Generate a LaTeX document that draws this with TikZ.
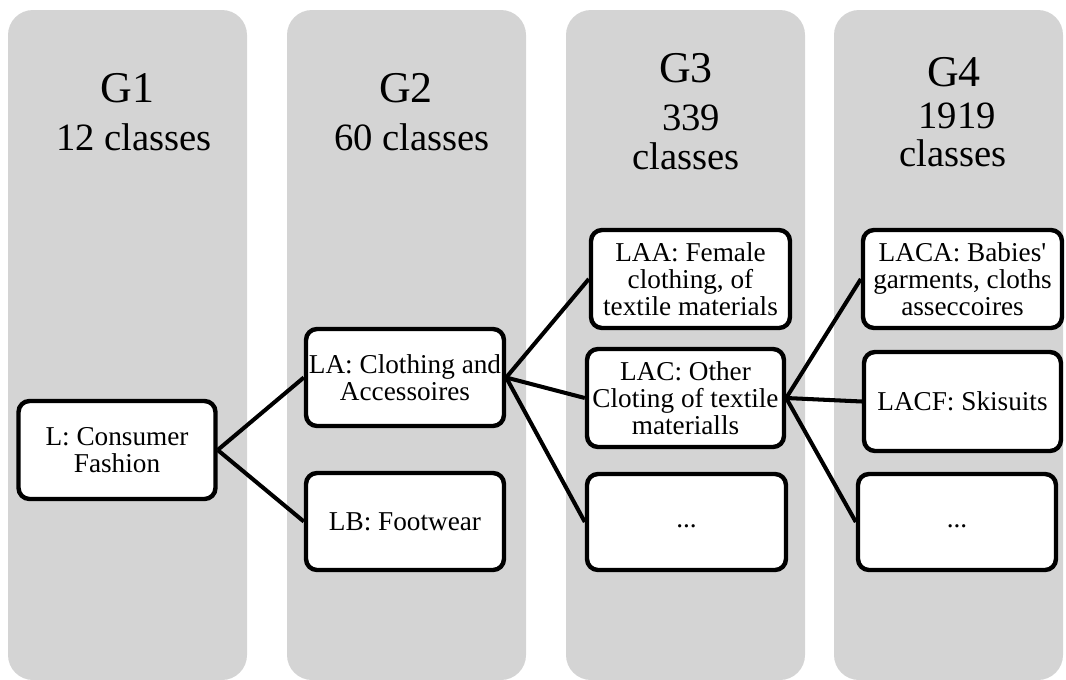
\documentclass[tikz,border=0pt]{standalone}
\usepackage{fontspec}
\setmainfont{Liberation Serif}
\definecolor{lanegrey}{RGB}{212,212,212}
\tikzset{
  lane/.style={fill=lanegrey, rounded corners=0.5cm},
  grouptitle/.style={anchor=base, inner sep=0, font=\fontsize{25}{25}\selectfont},
  groupcount/.style={anchor=base, inner sep=0, font=\fontsize{22}{22}\selectfont},
  classbox/.style={draw, line width=2.5pt, fill=white, rounded corners=0.22cm,
    align=center, inner sep=0pt, font=\fontsize{15.5}{15.5}\selectfont},
  link/.style={line width=2.3pt}
}
\begin{document}
\begin{tikzpicture}[x=0.02cm, y=-0.02cm]
\useasboundingbox (0,0) rectangle (1066,680);

% four hierarchy levels as grey lanes
\fill[lane] (8,10) rectangle (247,680);
\fill[lane] (287,10) rectangle (526,680);
\fill[lane] (566,10) rectangle (805,680);
\fill[lane] (834,10) rectangle (1063,680);

% lane headings
\node[grouptitle] (g1) at (127.5,102.7) {G1};
\node[groupcount] (g1n) at (134,150.7) {12 classes};
\node[grouptitle] (g2) at (406,102.7) {G2};
\node[groupcount] (g2n) at (412,150.7) {60 classes};
\node[grouptitle] (g3) at (686,82) {G3};
\node[groupcount] (g3n) at (691,130.7) {339};
\node[groupcount] (g3c) at (686,169.3) {classes};
\node[grouptitle] (g4) at (954,86) {G4};
\node[groupcount] (g4n) at (957,128) {1919};
\node[groupcount] (g4c) at (953,166.7) {classes};

% class nodes
\node[classbox, minimum width=3.94cm, minimum height=1.96cm] (L) at (117,450) {L: Consumer\\Fashion};
\node[classbox, minimum width=3.96cm, minimum height=1.94cm] (LA) at (405,377.5) {LA: Clothing and\\Accessoires};
\node[classbox, minimum width=3.96cm, minimum height=1.94cm] (LB) at (405,521.5) {LB: Footwear};
\node[classbox, minimum width=3.98cm, minimum height=1.96cm] (LAA) at (690.5,279) {LAA: Female\\clothing, of\\textile materials};
\node[classbox, minimum width=3.94cm, minimum height=1.96cm] (LAC) at (685.5,398) {LAC: Other\\Cloting of textile\\materialls};
\node[classbox, minimum width=3.98cm, minimum height=1.92cm] (D3) at (686.5,522) {\strut...};
\node[classbox, minimum width=3.98cm, minimum height=1.96cm] (LACA) at (962.5,279) {LACA: Babies\textquotesingle\\garments, cloths\\asseccoires};
\node[classbox, minimum width=3.94cm, minimum height=1.98cm] (LACF) at (962.5,401.5) {LACF: Skisuits};
\node[classbox, minimum width=3.96cm, minimum height=1.92cm] (D4) at (957,522) {\strut...};

% parent-child links
\draw[link] (L.east) -- (LA.west);
\draw[link] (L.east) -- (LB.west);
\draw[link] (LA.east) -- (LAA.west);
\draw[link] (LA.east) -- (LAC.west);
\draw[link] (LA.east) -- (D3.west);
\draw[link] (LAC.east) -- (LACA.west);
\draw[link] (LAC.east) -- (LACF.west);
\draw[link] (LAC.east) -- (D4.west);
\end{tikzpicture}
\end{document}
